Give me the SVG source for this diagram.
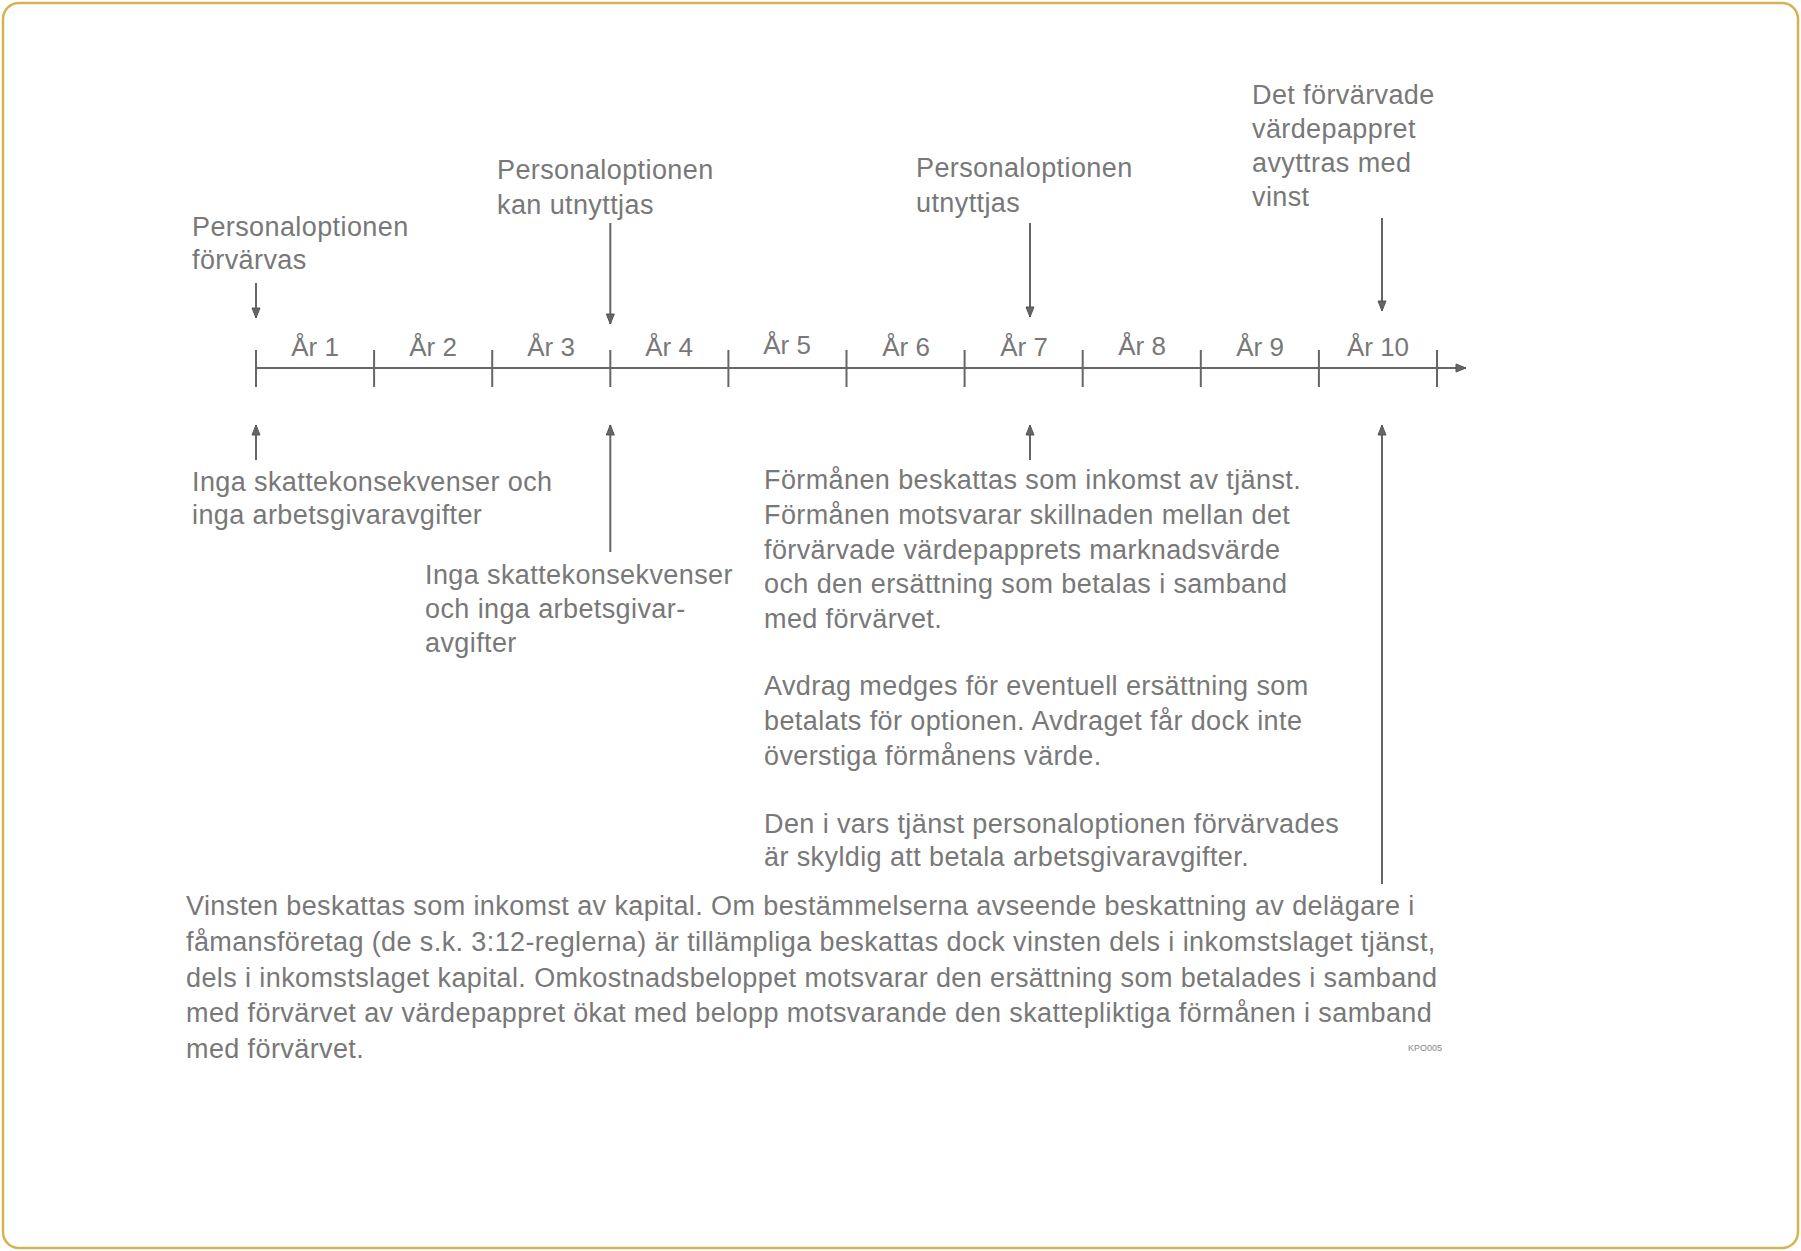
<svg xmlns="http://www.w3.org/2000/svg" width="1801" height="1251" viewBox="0 0 1801 1251">
<style>
.t{font-family:"Liberation Sans",Arial,sans-serif;font-size:27px;fill:#787878;letter-spacing:0.4px}
.y{font-family:"Liberation Sans",Arial,sans-serif;font-size:26px;fill:#787878;text-anchor:middle}
.ln{stroke:#666666;stroke-width:2;fill:none}
.k{font-family:"Liberation Sans",Arial,sans-serif;font-size:9px;fill:#888888}
</style>
<defs>
<marker id="ah" markerUnits="userSpaceOnUse" markerWidth="12" markerHeight="12" viewBox="0 0 12 12" refX="11" refY="6" orient="auto">
<path d="M1,2 L11,6 L1,10 Z" fill="#666666" stroke="#555555" stroke-width="1"/>
</marker>
</defs>
<rect x="3" y="3" width="1795" height="1245" rx="16" ry="16" fill="#ffffff" stroke="#D6B352" stroke-width="2.5"/>

<g id="timeline">
<line class="ln" x1="256" y1="368" x2="1466" y2="368" marker-end="url(#ah)"/>
<g class="ln">
<line x1="256" y1="350" x2="256" y2="387"/>
<line x1="374.1" y1="350" x2="374.1" y2="387"/>
<line x1="492.2" y1="350" x2="492.2" y2="387"/>
<line x1="610.3" y1="350" x2="610.3" y2="387"/>
<line x1="728.4" y1="350" x2="728.4" y2="387"/>
<line x1="846.5" y1="350" x2="846.5" y2="387"/>
<line x1="964.6" y1="350" x2="964.6" y2="387"/>
<line x1="1082.7" y1="350" x2="1082.7" y2="387"/>
<line x1="1200.8" y1="350" x2="1200.8" y2="387"/>
<line x1="1318.9" y1="350" x2="1318.9" y2="387"/>
<line x1="1437" y1="350" x2="1437" y2="387"/>
</g>
<text class="y" x="315" y="356">År 1</text>
<text class="y" x="433" y="356">År 2</text>
<text class="y" x="551" y="356">År 3</text>
<text class="y" x="669" y="356">År 4</text>
<text class="y" x="787" y="354">År 5</text>
<text class="y" x="906" y="356">År 6</text>
<text class="y" x="1024" y="356">År 7</text>
<text class="y" x="1142" y="355">År 8</text>
<text class="y" x="1260" y="356">År 9</text>
<text class="y" x="1378" y="356">År 10</text>
</g>

<g id="connectors" class="ln">
<line x1="256" y1="283" x2="256" y2="318" marker-end="url(#ah)"/>
<line x1="610.3" y1="223" x2="610.3" y2="324" marker-end="url(#ah)"/>
<line x1="1030" y1="223" x2="1030" y2="317" marker-end="url(#ah)"/>
<line x1="1382" y1="218" x2="1382" y2="311" marker-end="url(#ah)"/>
<line x1="256" y1="460" x2="256" y2="425" marker-end="url(#ah)"/>
<line x1="610.3" y1="552" x2="610.3" y2="425" marker-end="url(#ah)"/>
<line x1="1030" y1="460" x2="1030" y2="425" marker-end="url(#ah)"/>
<line x1="1382" y1="884" x2="1382" y2="425" marker-end="url(#ah)"/>
</g>

<g id="n-forvarvas">
<text class="t" x="192" y="236">Personaloptionen</text>
<text class="t" x="192" y="269">förvärvas</text>
</g>
<g id="n-kan-utnyttjas">
<text class="t" x="497" y="179">Personaloptionen</text>
<text class="t" x="497" y="214">kan utnyttjas</text>
</g>
<g id="n-utnyttjas">
<text class="t" x="916" y="177">Personaloptionen</text>
<text class="t" x="916" y="212">utnyttjas</text>
</g>
<g id="n-avyttras">
<text class="t" x="1252" y="104">Det förvärvade</text>
<text class="t" x="1252" y="138">värdepappret</text>
<text class="t" x="1252" y="172">avyttras med</text>
<text class="t" x="1252" y="206">vinst</text>
</g>
<g id="n-inga1">
<text class="t" x="192" y="491">Inga skattekonsekvenser och</text>
<text class="t" x="192" y="524">inga arbetsgivaravgifter</text>
</g>
<g id="n-inga2">
<text class="t" x="425" y="584">Inga skattekonsekvenser</text>
<text class="t" x="425" y="618">och inga arbetsgivar-</text>
<text class="t" x="425" y="652">avgifter</text>
</g>
<g id="n-formanen">
<text class="t" x="764" y="489">Förmånen beskattas som inkomst av tjänst.</text>
<text class="t" x="764" y="524">Förmånen motsvarar skillnaden mellan det</text>
<text class="t" x="764" y="559">förvärvade värdepapprets marknadsvärde</text>
<text class="t" x="764" y="593">och den ersättning som betalas i samband</text>
<text class="t" x="764" y="628">med förvärvet.</text>
<text class="t" x="764" y="695">Avdrag medges för eventuell ersättning som</text>
<text class="t" x="764" y="730">betalats för optionen. Avdraget får dock inte</text>
<text class="t" x="764" y="765">överstiga förmånens värde.</text>
<text class="t" x="764" y="833">Den i vars tjänst personaloptionen förvärvades</text>
<text class="t" x="764" y="866">är skyldig att betala arbetsgivaravgifter.</text>
</g>
<g id="n-vinsten">
<text class="t" x="186" y="915">Vinsten beskattas som inkomst av kapital. Om bestämmelserna avseende beskattning av delägare i</text>
<text class="t" x="186" y="951">fåmansföretag (de s.k. 3:12-reglerna) är tillämpliga beskattas dock vinsten dels i inkomstslaget tjänst,</text>
<text class="t" x="186" y="987">dels i inkomstslaget kapital. Omkostnadsbeloppet motsvarar den ersättning som betalades i samband</text>
<text class="t" x="186" y="1022">med förvärvet av värdepappret ökat med belopp motsvarande den skattepliktiga förmånen i samband</text>
<text class="t" x="186" y="1058">med förvärvet.</text>
</g>
<text class="k" x="1408" y="1051">KPO005</text>
</svg>
